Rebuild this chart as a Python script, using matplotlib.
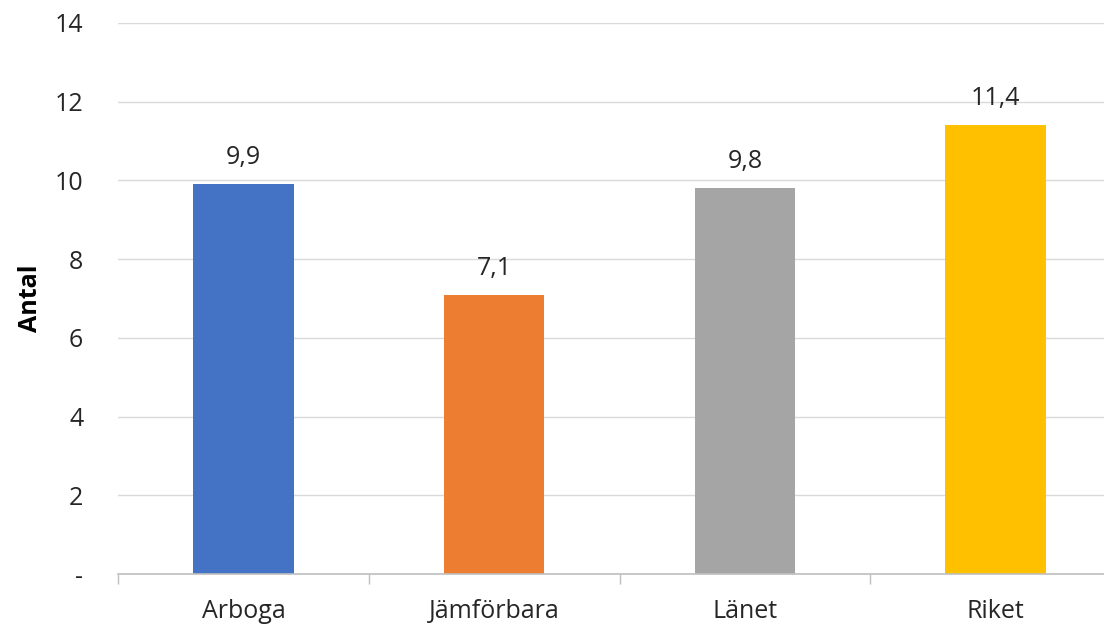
import matplotlib
matplotlib.use("Agg")
import matplotlib.pyplot as plt
from matplotlib.ticker import FixedLocator

categories = ["Arboga", "Jämförbara", "Länet", "Riket"]
values = [9.9, 7.1, 9.8, 11.4]
colors = ["#4472C4", "#ED7D31", "#A5A5A5", "#FFC000"]
yticks = [0, 2, 4, 6, 8, 10, 12, 14]
ytick_labels = ["-", "2", "4", "6", "8", "10", "12", "14"]

plt.rcParams["font.family"] = ["Open Sans", "DejaVu Sans"]

fig = plt.figure(figsize=(11.04, 6.25), dpi=100)
ax = fig.add_axes([118/1104, 51/625, (1121-118)/1104, (574-23)/625])

x = list(range(len(categories)))
bars = ax.bar(x, values, width=0.4, color=colors, zorder=3)

for xi, v in zip(x, values):
    ax.annotate(f"{v:.1f}".replace(".", ","), (xi, v), xytext=(0, 10),
                textcoords="offset points", ha="center", va="bottom",
                fontsize=18, color="#262626")

ax.set_xlim(-0.5, len(categories) - 0.5)
ax.set_ylim(0, 14)
ax.set_yticks(yticks)
ax.set_yticklabels(ytick_labels)
ax.set_xticks(x)
ax.set_xticklabels(categories)
ax.xaxis.set_minor_locator(FixedLocator([i - 0.5 for i in range(len(categories) + 1)]))

ax.tick_params(axis="x", which="major", length=0, pad=18, labelsize=18, labelcolor="#262626")
ax.tick_params(axis="x", which="minor", length=7, width=1, color="#bfbfbf", direction="out")
ax.tick_params(axis="y", length=0, pad=25, labelsize=18, labelcolor="#262626")

ax.grid(axis="y", color="#d9d9d9", linewidth=1, zorder=0)
for s in ["top", "right", "left"]:
    ax.spines[s].set_visible(False)
ax.spines["bottom"].set_color("#bfbfbf")
ax.spines["bottom"].set_linewidth(1.2)
ax.spines["bottom"].set_zorder(4)

ax.set_ylabel("Antal", fontsize=18, fontweight="bold", color="#000000", labelpad=8)

fig.savefig("out.png", dpi=100)
